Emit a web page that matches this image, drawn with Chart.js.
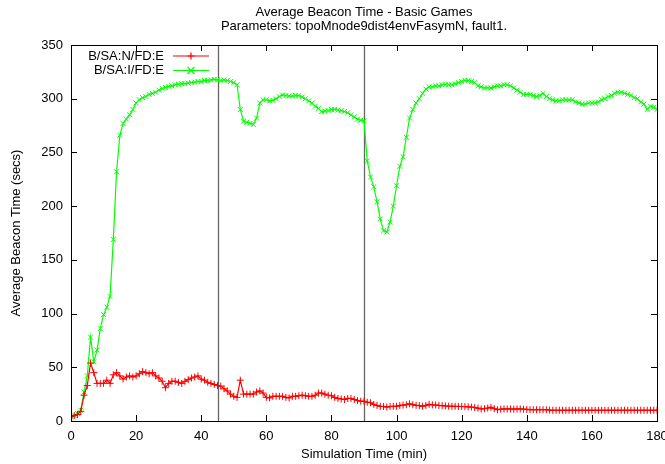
<!DOCTYPE html>
<html>
<head>
<meta charset="utf-8">
<script src="https://cdn.jsdelivr.net/npm/chart.js@4/dist/chart.umd.min.js"></script>
<style>
html,body{margin:0;padding:0;background:#fff;}
#wrap{width:665px;height:464px;position:relative;}
</style>
</head>
<body>
<div id="wrap"><canvas id="c" width="665" height="464"></canvas></div>
<script>
const titleLines = ["Average Beacon Time - Basic Games", "Parameters: topoMnode9dist4envFasymN, fault1."];
const xAxisTitle = "Simulation Time (min)";
const yAxisTitle = "Average Beacon Time (secs)";
const seriesNames = ["B/SA:N/FD:E", "B/SA:I/FD:E"];
const markerTimes = [45, 90];
const minutes = Array.from({length: 181}, (_, i) => i);

const redValues = [
  4,5,6,9,24,33,54,45,35,35,
  35,38,35,43,45,42,39,41,42,41,
  42,44,46,45,44,45,42,40,37,31,
  35,37,37,36,35,37,38.5,40,41,42,
  39,38,36,35,34,33,32.5,30,28,25,
  23,22,38,25,25,25,25,27,28,26,
  22,21.5,23,23,23,23,22,21.5,23,23,
  23.5,24,23.5,23,23,24,26,26,25,24,
  23.5,22,21,20.5,20,21,21,20,19,18.5,
  18.3,17.5,17,15.5,14.5,13.7,13.5,13,13.5,13.7,
  13.7,14.3,14.8,15.2,16,15.2,14.6,14.3,13.7,14.5,
  15.5,15,14.9,14.5,14.3,14,13.8,13.7,13.7,13.5,
  13.5,13.4,13.2,13,12.5,12,11.2,11.5,12,12.8,
  11.5,10.5,11,11.2,11.2,11.2,11,11.2,11.2,11,
  10.8,10.5,10.5,10.5,10.5,10.5,10.5,10.2,10,10,
  10,10,10,10,10,10,10,10,10,10,
  10,10,10,10,10,10,10,10,10,10,
  10,10,10,10,10,10,10,10,10,10,10
];

const greenValues = [
  4,5,7,10,27,42,78,55,66,86,
  99,106,116,169,232,266,277,281,285,290,
  296,299,301,302,304,305,306,308,309.5,310.5,
  311.5,312,313,313.5,314,314,314.5,315,315.5,316,
  316,317,317,317.5,318,317.5,317,317.5,317,316,
  315,313,290,279,278,277,276,282,296,299,
  299,298,298.5,300,302,303.5,303,302.5,302.5,303,
  303,301.5,300,298,296,293,291,288,288.5,289,
  290,290,289.5,289,288,287,285,283,281,280,
  279.5,242,227,218,204,188,177,176,185,200,
  219,237,246,264,282,290,296,300,305,309,
  311,311,312,312,313,313,313,313,314,315,
  316,317,317,316,315,312,311,310,310,310,
  311,312,312,313,313,312,310,308,306,304,
  304,304,303,302,303,305,302,300,299,298,
  298,299,299,299,299,297,296,295,295,296,
  296,296,297,299,300,302,303,305,306,306,
  305,304,303,301,300,297,295,290,293,292,
  290
];

const FONT = '"Liberation Sans", Arial, Helvetica, sans-serif';
const FS = 13;
const toPts = (vals) => vals.map((v, i) => ({x: minutes[i], y: v}));

const framePlugin = {
  id: 'frame',
  beforeDatasetsDraw(chart) {
    const {ctx, chartArea: a, scales: {x}} = chart;
    ctx.save();
    ctx.strokeStyle = '#666';
    ctx.lineWidth = 1.3;
    markerTimes.forEach(t => {
      const px = Math.round(x.getPixelForValue(t)) + 0.5;
      ctx.beginPath(); ctx.moveTo(px, a.top); ctx.lineTo(px, a.bottom); ctx.stroke();
    });
    ctx.restore();
  },
  afterDraw(chart) {
    const {ctx, chartArea: a, scales: {x, y}} = chart;
    ctx.save();
    ctx.strokeStyle = '#000';
    ctx.lineWidth = 1;
    ctx.strokeRect(Math.round(a.left) + 0.5, Math.round(a.top) + 0.5, Math.round(a.right - a.left), Math.round(a.bottom - a.top));
    const tl = 6;
    ctx.beginPath();
    x.ticks.forEach(t => {
      const px = Math.round(x.getPixelForValue(t.value)) + 0.5;
      ctx.moveTo(px, a.bottom); ctx.lineTo(px, a.bottom - tl);
      ctx.moveTo(px, a.top); ctx.lineTo(px, a.top + tl);
    });
    y.ticks.forEach(t => {
      const py = Math.round(y.getPixelForValue(t.value)) + 0.5;
      ctx.moveTo(a.left, py); ctx.lineTo(a.left + tl, py);
      ctx.moveTo(a.right, py); ctx.lineTo(a.right - tl, py);
    });
    ctx.stroke();
    ctx.fillStyle = '#000';
    ctx.font = FS + 'px ' + FONT;
    ctx.textAlign = 'center';
    ctx.textBaseline = 'middle';
    const cx = (a.left + a.right) / 2;
    ctx.fillText(titleLines[0], cx, 12);
    ctx.fillText(titleLines[1], cx, 26.5);
    const rows = [56, 70.5];
    chart.data.datasets.forEach((ds, i) => {
      const yy = rows[i];
      ctx.textAlign = 'right';
      ctx.fillStyle = '#000';
      ctx.font = FS + 'px ' + FONT;
      ctx.fillText(ds.label, 164, yy);
      ctx.strokeStyle = ds.borderColor;
      ctx.lineWidth = 1.2;
      ctx.beginPath(); ctx.moveTo(173, yy); ctx.lineTo(209, yy); ctx.stroke();
      const m = 3.5, mx = 191;
      ctx.beginPath();
      if (ds.pointStyle === 'cross') {
        ctx.moveTo(mx - m, yy); ctx.lineTo(mx + m, yy);
        ctx.moveTo(mx, yy - m); ctx.lineTo(mx, yy + m);
      } else {
        ctx.moveTo(mx - m, yy - m); ctx.lineTo(mx + m, yy + m);
        ctx.moveTo(mx - m, yy + m); ctx.lineTo(mx + m, yy - m);
      }
      ctx.stroke();
    });
    ctx.restore();
  }
};

new Chart(document.getElementById('c'), {
  type: 'line',
  data: {
    datasets: [
      {
        label: seriesNames[0],
        data: toPts(redValues),
        borderColor: '#ff0000',
        backgroundColor: '#ff0000',
        borderWidth: 1.2,
        pointStyle: 'cross',
        pointRadius: 3.5,
        pointBorderWidth: 1,
        pointBorderColor: '#ff0000',
        tension: 0,
        fill: false
      },
      {
        label: seriesNames[1],
        data: toPts(greenValues),
        borderColor: '#00ff00',
        backgroundColor: '#00ff00',
        borderWidth: 1.2,
        pointStyle: 'crossRot',
        pointRadius: 3.5,
        pointBorderWidth: 1,
        pointBorderColor: '#00ff00',
        tension: 0,
        fill: false
      }
    ]
  },
  options: {
    responsive: false,
    animation: false,
    layout: {padding: {top: 45, right: 8, left: 0, bottom: 0}},
    plugins: {legend: {display: false}, title: {display: false}, tooltip: {enabled: false}},
    scales: {
      x: {
        type: 'linear', min: 0, max: 180,
        ticks: {stepSize: 20, color: '#000', font: {family: FONT, size: FS}, padding: 8, maxRotation: 0},
        grid: {display: false, drawTicks: false},
        border: {display: false},
        title: {display: true, text: xAxisTitle, color: '#000', font: {family: FONT, size: FS}, padding: {top: 0, bottom: 2}},
        afterFit(s) { s.height = 43; s.paddingRight = 0; s.paddingLeft = 0; }
      },
      y: {
        type: 'linear', min: 0, max: 350,
        ticks: {stepSize: 50, color: '#000', font: {family: FONT, size: FS}, padding: 8},
        grid: {display: false, drawTicks: false},
        border: {display: false},
        title: {display: true, text: yAxisTitle, color: '#000', font: {family: FONT, size: FS}, padding: {top: 9, bottom: 0}},
        afterFit(s) { s.width = 71; s.paddingTop = 0; s.paddingBottom = 0; }
      }
    }
  },
  plugins: [framePlugin]
});
</script>
</body>
</html>
